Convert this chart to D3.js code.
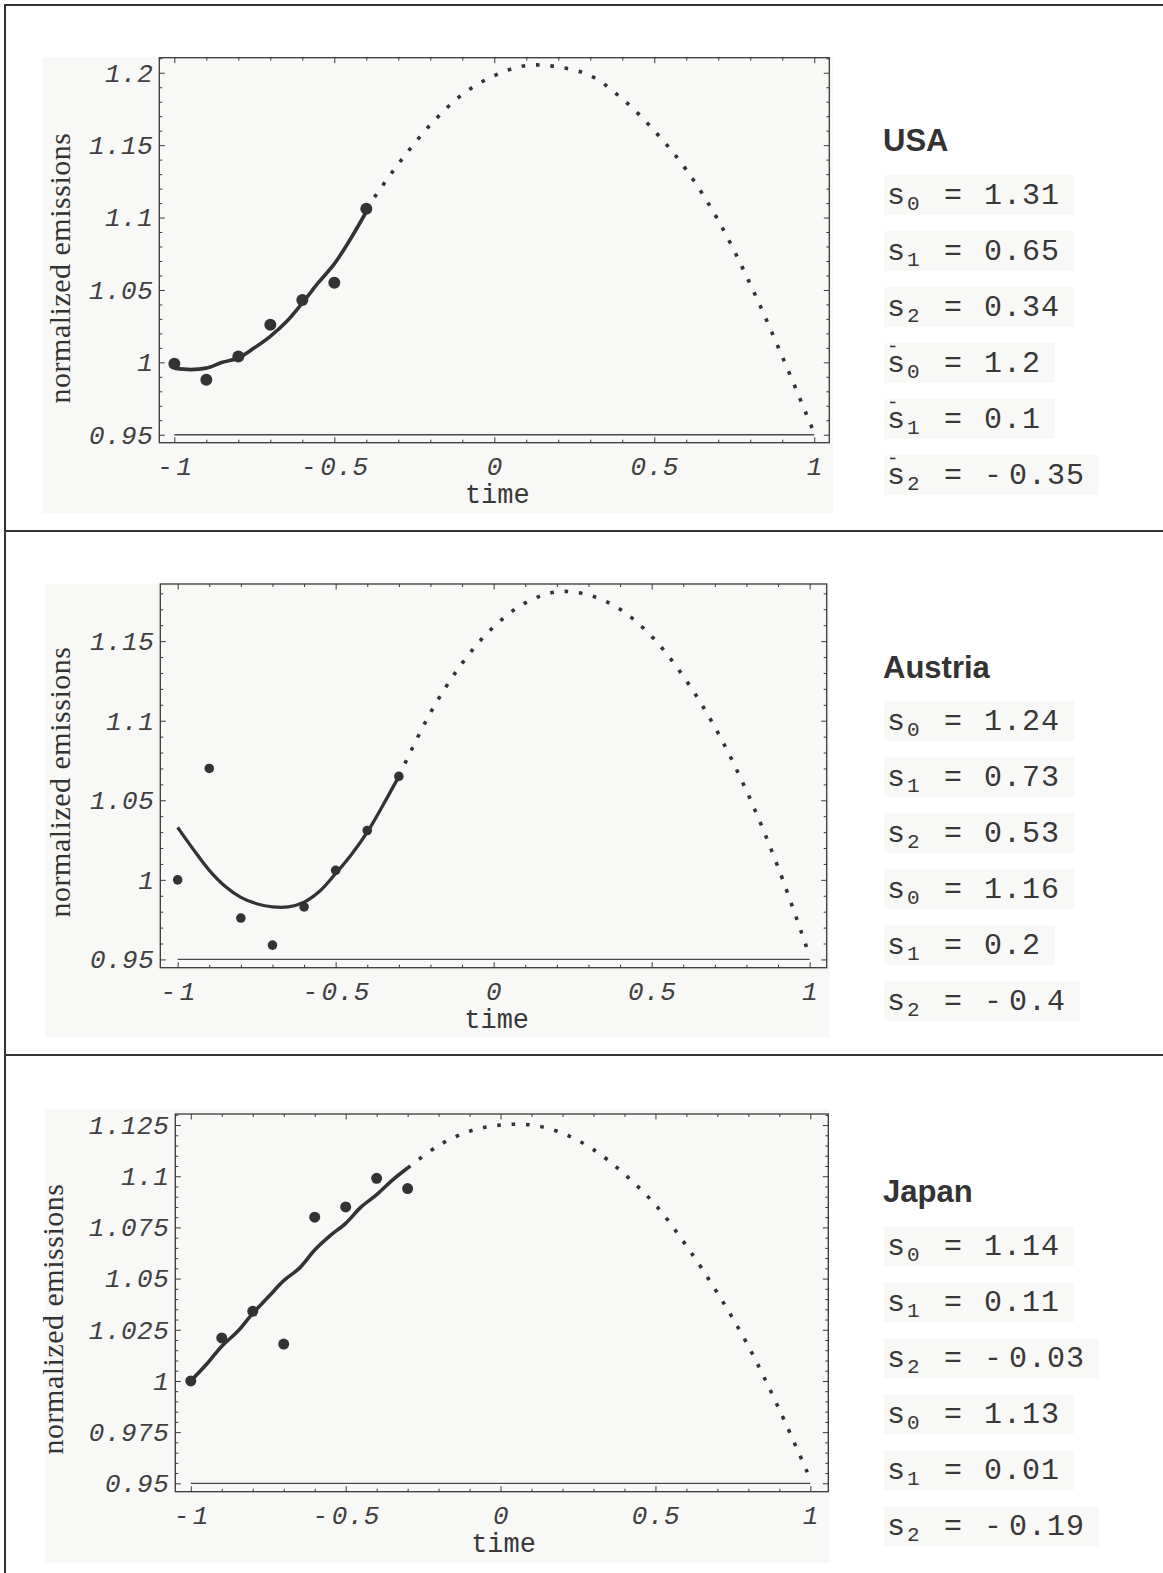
<!DOCTYPE html>
<html>
<head>
<meta charset="utf-8">
<script src="https://cdn.jsdelivr.net/npm/d3@7"></script>
<style>
  body { margin: 0; background: #fff; }
  svg { display: block; }
  .axis text { font-family: "Liberation Mono", monospace; font-style: italic; font-size: 26px; fill: #404040; letter-spacing: 0.5px; word-spacing: -13px; }
  .axis line { stroke: #3a3a3a; stroke-width: 1; }
  .ylabel { font-family: "Liberation Serif", serif; font-size: 30px; fill: #333; letter-spacing: 0.5px; }
  .xlabel { font-family: "Liberation Mono", monospace; font-size: 27px; fill: #383838; }
  .title { font-family: "Liberation Sans", Arial, sans-serif; font-weight: bold; font-size: 31px; fill: #333; }
  .stat { font-family: "Liberation Mono", monospace; font-size: 30px; fill: #383838; letter-spacing: 1px; word-spacing: -13px; }
  .stat.sub { font-size: 21px; letter-spacing: 0; }
</style>
</head>
<body>
<svg id="chart" width="1163" height="1573"></svg>
<script>
// observation times and normalized emissions
const obsTime = [-1, -0.9, -0.8, -0.7, -0.6, -0.5, -0.4, -0.3];
const usaObserved = [0.999, 0.988, 1.004, 1.026, 1.043, 1.055, 1.106];
const austriaObserved = [1.000, 1.070, 0.976, 0.959, 0.983, 1.006, 1.031, 1.065];
const japanObserved = [1.000, 1.021, 1.034, 1.018, 1.080, 1.085, 1.099, 1.094];

// fitted model over the observed period (solid)
const fitTime = [-1, -0.95, -0.9, -0.85, -0.8, -0.75, -0.7, -0.65, -0.6, -0.55, -0.5, -0.45, -0.4, -0.35, -0.3];
const usaFit = [0.996, 0.995, 0.996, 1.000, 1.003, 1.010, 1.018, 1.028, 1.041, 1.055, 1.068, 1.085, 1.104];
const austriaFit = [1.033, 1.019, 1.006, 0.996, 0.989, 0.985, 0.983, 0.983, 0.986, 0.993, 1.004, 1.016, 1.030, 1.047, 1.065];
const japanFit = [1.000, 1.008, 1.017, 1.024, 1.033, 1.041, 1.049, 1.055, 1.064, 1.071, 1.077, 1.085, 1.091, 1.098, 1.104];

// forecast (dotted)
const forecastTime = [-0.4, -0.3, -0.2, -0.1, 0, 0.1, 0.2, 0.3, 0.4, 0.5, 0.6, 0.7, 0.8, 0.9, 1];
const usaForecast = [1.106, 1.137, 1.164, 1.185, 1.198, 1.205, 1.204, 1.198, 1.182, 1.160, 1.133, 1.098, 1.054, 1.004, 0.951];
const austriaForecast = [1.065, 1.105, 1.136, 1.159, 1.174, 1.181, 1.179, 1.170, 1.153, 1.128, 1.096, 1.056, 1.008, 0.952];
const japanForecast = [1.104, 1.115, 1.122, 1.125, 1.125, 1.121, 1.113, 1.101, 1.086, 1.066, 1.043, 1.017, 0.986, 0.952];

// ticks
const timeTicks = [-1, -0.5, 0, 0.5, 1];
const timeTickLabels = ["- 1", "- 0.5", "0", "0.5", "1"];
const usaTicks = [0.95, 1, 1.05, 1.1, 1.15, 1.2];
const austriaTicks = [0.95, 1, 1.05, 1.1, 1.15];
const japanTicks = [0.95, 0.975, 1, 1.025, 1.05, 1.075, 1.1, 1.125];

// parameters
const paramIndex = ["0", "1", "2", "0", "1", "2"];
const usaParams = ["1.31", "0.65", "0.34", "1.2", "0.1", "- 0.35"];
const austriaParams = ["1.24", "0.73", "0.53", "1.16", "0.2", "- 0.4"];
const japanParams = ["1.14", "0.11", "- 0.03", "1.13", "0.01", "- 0.19"];

const panels = [
  { name: "USA", obs: usaObserved, fit: usaFit, fc: usaForecast, fcStart: 0, yTicks: usaTicks, minorDiv: 100,
    xDomain: [-1.047, 1.047], yDomain: [0.9445, 1.2104],
    bg: [42, 57, 833, 513], frame: [159.3, 57.7, 829.3, 442.7],
    labelX: 70, labelY: 268, titleY: 151, boxTop: 175, params: usaParams, bars: true, r: 6, lw: 3.6 },
  { name: "Austria", obs: austriaObserved, fit: austriaFit, fc: austriaForecast, fcStart: 1, yTicks: austriaTicks, minorDiv: 100,
    xDomain: [-1.055, 1.054], yDomain: [0.9448, 1.1859],
    bg: [45, 584, 830, 1038], frame: [160.3, 584, 826.7, 967.7],
    labelX: 70, labelY: 782, titleY: 678, boxTop: 701, params: austriaParams, bars: false, r: 4.8, lw: 3.3 },
  { name: "Japan", obs: japanObserved, fit: japanFit, fc: japanForecast, fcStart: 1, yTicks: japanTicks, minorDiv: 200,
    xDomain: [-1.05, 1.058], yDomain: [0.9459, 1.1304],
    bg: [45, 1109, 830, 1563], frame: [175.3, 1114, 828.3, 1491.7],
    labelX: 63.3, labelY: 1319, titleY: 1201.7, boxTop: 1226, params: japanParams, bars: false, r: 5.5, lw: 3.6 }
];

const svg = d3.select("#chart");
svg.append("rect").attr("width", 1163).attr("height", 1573).attr("fill", "#fff");

const fmt = d => String(+d.toFixed(3));

panels.forEach(p => {
  const [fl, ft, fr, fb] = p.frame;
  const x = d3.scaleLinear().domain(p.xDomain).range([fl, fr]);
  const y = d3.scaleLinear().domain(p.yDomain).range([fb, ft]);
  const g = svg.append("g");

  g.append("rect")
    .attr("x", p.bg[0]).attr("y", p.bg[1])
    .attr("width", p.bg[2] - p.bg[0]).attr("height", p.bg[3] - p.bg[1])
    .attr("fill", "#f8f8f6");

  // minor ticks
  const xMinor = d3.range(-10, 11).filter(i => i % 5 !== 0).map(i => i / 10);
  const yMinor = d3.range(Math.ceil(p.yDomain[0] * p.minorDiv), Math.floor(p.yDomain[1] * p.minorDiv) + 1)
    .filter(i => i % 5 !== 0).map(i => i / p.minorDiv);

  const addAxis = (axisFn, scale, pos, major, minor, labels) => {
    const tr = axisFn === d3.axisLeft || axisFn === d3.axisRight ? `translate(${pos},0)` : `translate(0,${pos})`;
    g.append("g").attr("class", "axis").attr("transform", tr)
      .call(axisFn(scale).tickValues(minor).tickSizeInner(-3).tickSizeOuter(0).tickFormat(""))
      .call(s => s.select(".domain").remove());
    const a = axisFn(scale).tickValues(major).tickSizeInner(-5.5).tickSizeOuter(0);
    if (labels) a.tickFormat(labels).tickPadding(axisFn === d3.axisLeft ? 6 : 13.5);
    else a.tickFormat("");
    g.append("g").attr("class", "axis").attr("transform", tr)
      .call(a)
      .call(s => s.select(".domain").remove());
  };

  addAxis(d3.axisLeft, y, fl, p.yTicks, yMinor, fmt);
  addAxis(d3.axisRight, y, fr, p.yTicks, yMinor, null);
  addAxis(d3.axisBottom, x, fb, timeTicks, xMinor, (d, i) => timeTickLabels[i]);
  addAxis(d3.axisTop, x, ft, timeTicks, xMinor, null);

  g.selectAll(".axis").attr("color", "#3a3a3a");

  g.append("rect")
    .attr("x", fl).attr("y", ft).attr("width", fr - fl).attr("height", fb - ft)
    .attr("fill", "none").attr("stroke", "#383838").attr("stroke-width", 1.3);

  // baseline
  g.append("line")
    .attr("x1", x(-1)).attr("x2", x(1))
    .attr("y1", y(0.95)).attr("y2", y(0.95))
    .attr("stroke", "#4a4a4a").attr("stroke-width", 1.3);

  const line = d3.line().x(d => x(d[0])).y(d => y(d[1])).curve(d3.curveCatmullRom);

  const fcT = forecastTime.slice(p.fcStart);
  g.append("path")
    .attr("d", line(p.fc.map((v, i) => [fcT[i], v])))
    .attr("fill", "none").attr("stroke", "#333")
    .attr("stroke-width", 3.6).attr("stroke-dasharray", "3.6 10.8");

  g.append("path")
    .attr("d", line(p.fit.map((v, i) => [fitTime[i], v])))
    .attr("fill", "none").attr("stroke", "#333")
    .attr("stroke-width", p.lw).attr("stroke-linejoin", "round");

  g.selectAll(".pt").data(p.obs).enter().append("circle")
    .attr("cx", (d, i) => x(obsTime[i])).attr("cy", d => y(d))
    .attr("r", p.r).attr("fill", "#333");

  g.append("text").attr("class", "ylabel")
    .attr("transform", `translate(${p.labelX},${p.labelY}) rotate(-90)`)
    .attr("text-anchor", "middle").text("normalized emissions");

  g.append("text").attr("class", "xlabel")
    .attr("x", x(0) + 3).attr("y", fb + 60.5)
    .attr("text-anchor", "middle").text("time");

  // parameter panel
  g.append("text").attr("class", "title").attr("x", 883).attr("y", p.titleY).text(p.name);
  p.params.forEach((val, i) => {
    const row = g.append("g").attr("transform", `translate(0,${p.boxTop + i * 56})`);
    const box = row.append("rect").attr("x", 884).attr("y", 0).attr("height", 40).attr("fill", "#f8f8f6");
    row.append("text").attr("class", "stat").attr("x", 887).attr("y", 29).text("s");
    row.append("text").attr("class", "stat sub").attr("x", 907).attr("y", 35).text(paramIndex[i]);
    row.append("text").attr("class", "stat").attr("x", 953.5).attr("y", 29).attr("text-anchor", "middle").text("=");
    const v = row.append("text").attr("class", "stat").attr("x", 984).attr("y", 29).text(val);
    box.attr("width", 984 + v.node().getComputedTextLength() + 14 - 884);
    if (p.bars && i >= 3) {
      // overbar on the mean parameters
      row.append("line").attr("x1", 890).attr("x2", 895.5).attr("y1", 3.5).attr("y2", 3.5)
        .attr("stroke", "#383838").attr("stroke-width", 1.6);
    }
  });
});

// table rules
const rule = "#333";
svg.append("line").attr("x1", 4).attr("x2", 1163).attr("y1", 5).attr("y2", 5).attr("stroke", rule).attr("stroke-width", 2);
svg.append("line").attr("x1", 5).attr("x2", 5).attr("y1", 4).attr("y2", 1573).attr("stroke", rule).attr("stroke-width", 2);
[531, 1055].forEach(yy => {
  svg.append("line").attr("x1", 4).attr("x2", 1163).attr("y1", yy).attr("y2", yy).attr("stroke", rule).attr("stroke-width", 2);
});
</script>
</body>
</html>
